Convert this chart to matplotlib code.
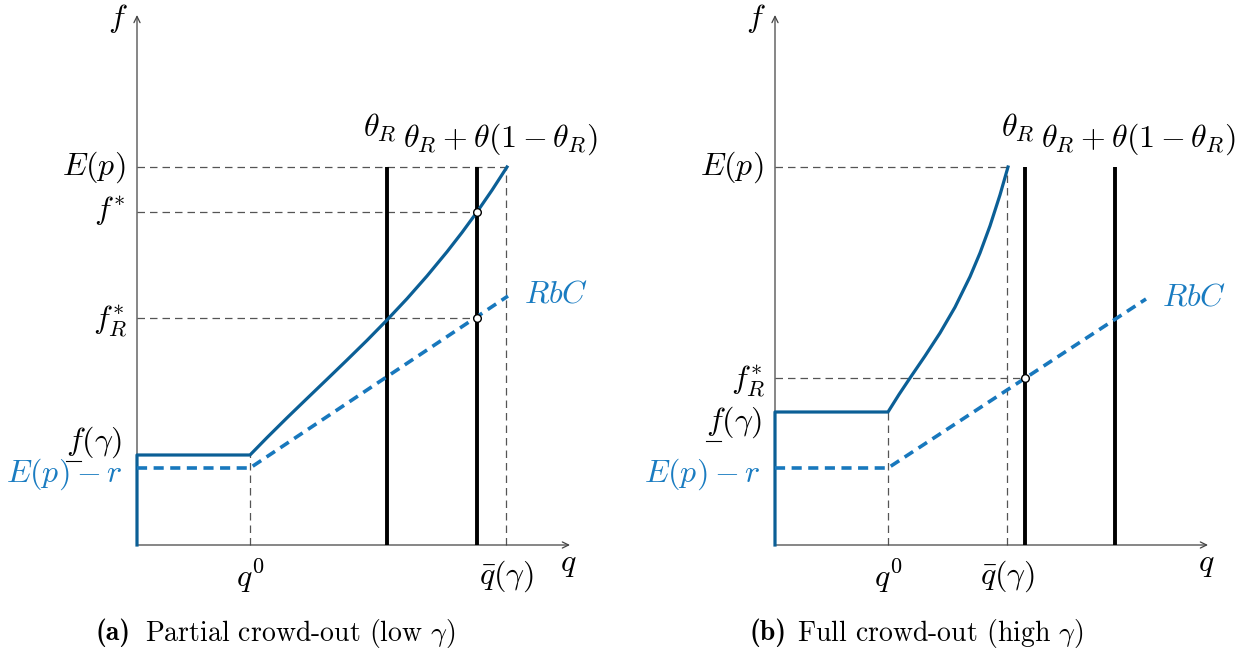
"""Crowd-out diagram: partial (low gamma) vs full (high gamma)."""
import matplotlib

matplotlib.use("Agg")
import matplotlib.pyplot as plt

plt.rcParams["mathtext.fontset"] = "cm"
plt.rcParams["font.family"] = ["cmr10", "DejaVu Serif"]
plt.rcParams["axes.formatter.use_mathtext"] = True

BLUE = "#0b5f96"
LBLUE = "#1878bd"
TBLUE = "#1a7cc1"
GRAY = "#555555"
AXC = "#444444"

# shared levels (units of the drawing: q to the right, f upward)
Q0 = 1.13
THETA_R = 2.50
THETA_R2 = 3.40
E_P = 3.78
E_P_R = 0.77
RBC_END = 3.71
Q_END = 4.33
F_TOP = 5.30

# panel (a): partial crowd-out, low gamma
A_QBAR = 3.69
A_FSTAR = 3.33
A_FSTAR_R = 2.27
A_FLOW = 0.90
A_CURVE_Q = [1.13, 1.30, 1.50, 1.70, 1.90, 2.10, 2.30, 2.50, 2.70, 2.90, 3.10, 3.25,
             3.40, 3.55, 3.70]
A_CURVE_F = [0.900, 1.074, 1.272, 1.465, 1.657, 1.850, 2.046, 2.250, 2.463, 2.690, 2.932,
             3.125, 3.330, 3.548, 3.780]
A_RBC_F = [0.77, 0.77, 2.49]

# panel (b): full crowd-out, high gamma
B_QBAR = 2.32
B_FSTAR_R = 1.67
B_FLOW = 1.33
B_CURVE_Q = [1.13, 1.24, 1.35, 1.50, 1.65, 1.80, 1.95, 2.05, 2.15, 2.25, 2.33]
B_CURVE_F = [1.330, 1.505, 1.670, 1.890, 2.120, 2.378, 2.683, 2.920, 3.191, 3.501, 3.780]
B_RBC_F = [0.77, 0.77, 2.46]

FS = 23


def hdash(ax, y, x1):
    ax.plot([0, x1], [y, y], color=GRAY, lw=0.9, ls=(0, (6, 4)), zorder=1)


def vdash(ax, x, y1):
    ax.plot([x, x], [0, y1], color=GRAY, lw=0.9, ls=(0, (6, 4)), zorder=1)


def draw_axes(ax):
    for end in [(Q_END, 0), (0, F_TOP)]:
        ax.annotate("", xy=end, xytext=(0, 0),
                    arrowprops=dict(arrowstyle="->,head_length=0.45,head_width=0.22",
                                    color=AXC, lw=0.9, shrinkA=0, shrinkB=0), zorder=2)
    ax.text(-0.19, 5.27, r"$f$", fontsize=FS, ha="center", va="center")
    ax.text(4.31, -0.20, r"$q$", fontsize=FS, ha="center", va="center")
    ax.text(Q0, -0.31, r"$q^0$", fontsize=FS, ha="center", va="center")


def underlined_f(ax, x, y):
    """f(gamma) label with a bar under the f (mathtext has no \\underline)."""
    t = ax.text(x, y, r"$f(\gamma)$", fontsize=FS, ha="right", va="center")
    fig = ax.figure
    bb = t.get_window_extent(fig.canvas.get_renderer())
    inv = ax.transData.inverted()
    (x0, y0), (x1, _) = inv.transform([(bb.x0, bb.y0), (bb.x0 + 0.27 * bb.width, bb.y0)])
    ax.plot([x0, x1], [y0 - 0.01, y0 - 0.01], color="black", lw=0.8, zorder=6)


def panel(ax, qbar, flow, fstar_r, curve_q, curve_f, rbc_f, fstar=None):
    # reference lines
    hdash(ax, E_P, qbar)
    if fstar is not None:
        hdash(ax, fstar, THETA_R2)
        hdash(ax, fstar_r, THETA_R2)
        cx = THETA_R2
    else:
        hdash(ax, fstar_r, THETA_R)
        cx = THETA_R
    vdash(ax, Q0, flow)
    vdash(ax, qbar, E_P)
    draw_axes(ax)

    # theta lines
    for x in (THETA_R, THETA_R2):
        ax.plot([x, x], [0, E_P], color="black", lw=2.8, zorder=3, solid_capstyle="butt")

    # supply curves
    ax.plot([0, 0, Q0] + curve_q[1:], [0, flow, flow] + curve_f[1:], color=BLUE, lw=2.3,
            zorder=4, solid_joinstyle="round")
    ax.plot([0, Q0, RBC_END], rbc_f, color=LBLUE, lw=2.6, ls=(0, (2.8, 1.8)), zorder=4)

    # equilibrium points
    pts_f = [fstar_r] if fstar is None else [fstar, fstar_r]
    ax.plot([cx] * len(pts_f), pts_f, "o", ms=5.5, mfc="white", mec="black", mew=1.0,
            zorder=5)

    # labels
    ax.text(qbar, -0.31, r"$\bar{q}(\gamma)$", fontsize=FS, ha="center", va="center")
    ax.text(-0.12, E_P, r"$E(p)$", fontsize=FS, ha="right", va="center")
    if fstar is not None:
        ax.text(-0.12, fstar + 0.02, r"$f^{*}$", fontsize=FS, ha="right", va="center")
    ax.text(-0.10, fstar_r - 0.03, r"$f_R^{*}$", fontsize=FS, ha="right", va="center")
    ax.text(-0.15, E_P_R - 0.06, r"$E(p) - r$", fontsize=FS, ha="right", va="center",
            color=TBLUE, zorder=7)
    ax.text(RBC_END + 0.16, rbc_f[-1] + 0.01, r"$RbC$", fontsize=FS, ha="left",
            va="center", color=TBLUE)
    ax.text(THETA_R - 0.07, 4.17, r"$\theta_R$", fontsize=FS, ha="center", va="center")
    ax.text(THETA_R2 + 0.23, 4.06, r"$\theta_R + \theta(1 - \theta_R)$", fontsize=FS,
            ha="center", va="center")
    ax.axis("off")


def main():
    fig = plt.figure(figsize=(12.58, 6.55), dpi=100)
    ax_a = fig.add_axes([0, 0, 629 / 1258, 1])
    ax_b = fig.add_axes([629 / 1258, 0, 629 / 1258, 1])
    ax_a.set_xlim(-1.37, 4.92)
    ax_b.set_xlim(-1.46, 4.83)
    for ax in (ax_a, ax_b):
        ax.set_ylim(-1.10, 5.45)

    panel(ax_a, A_QBAR, A_FLOW, A_FSTAR_R, A_CURVE_Q, A_CURVE_F, A_RBC_F, fstar=A_FSTAR)
    panel(ax_b, B_QBAR, B_FLOW, B_FSTAR_R, B_CURVE_Q, B_CURVE_F, B_RBC_F)

    underlined_f(ax_a, -0.15, A_FLOW + 0.13)
    underlined_f(ax_b, -0.13, B_FLOW - 0.10)

    # captions
    for tag, xb, xt, txt in [("a", 131, 145, r"Partial crowd-out (low $\gamma$)"),
                             ("b", 786, 797, r"Full crowd-out (high $\gamma$)")]:
        fig.text(xb / 1258, 1 - 633 / 655, "(%s)" % tag, fontfamily="cmb10",
                 fontsize=20, ha="right", va="center")
        fig.text(xt / 1258, 1 - 633 / 655, txt, fontsize=20, ha="left", va="center")

    fig.savefig("out.png", dpi=100)
    plt.close(fig)


if __name__ == "__main__":
    main()
